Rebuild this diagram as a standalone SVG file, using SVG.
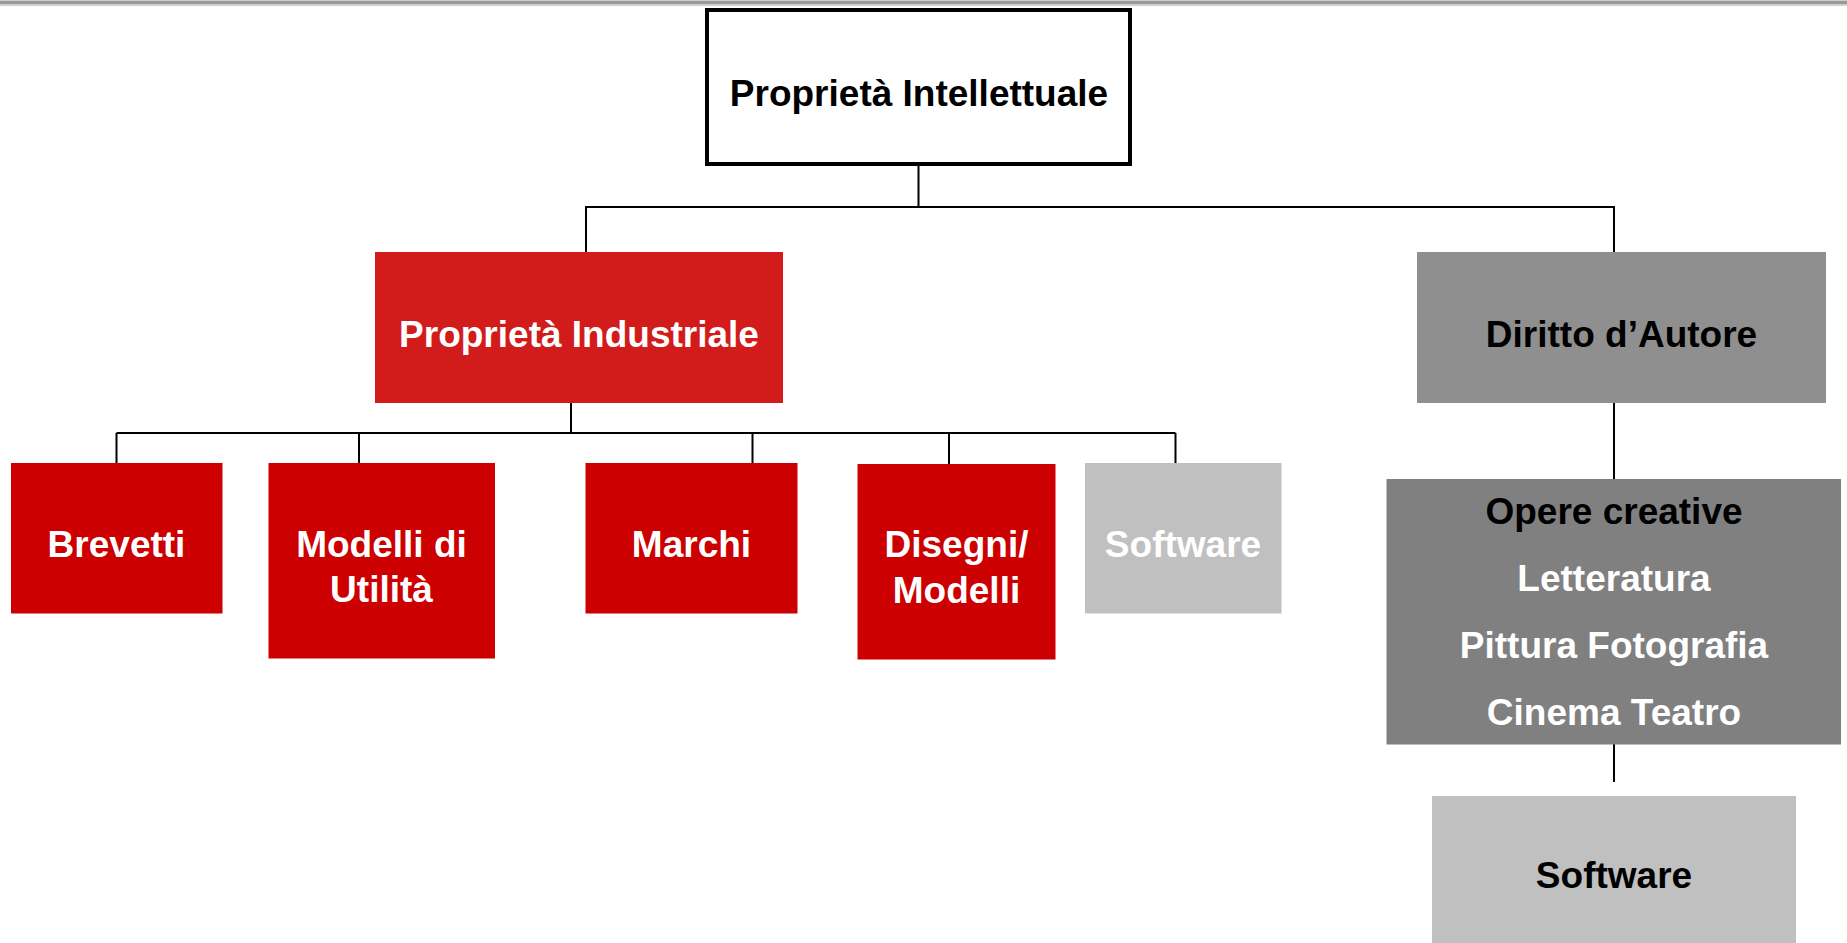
<svg xmlns="http://www.w3.org/2000/svg" width="1847" height="943" viewBox="0 0 1847 943">
<style>
text{font-family:"Liberation Sans",Arial,sans-serif;font-weight:bold;font-size:37px;text-anchor:middle}
.w{fill:#ffffff}
.k{fill:#000000}
.con{stroke:#000;stroke-width:2;fill:none}
.red{fill:#CC0000}
</style>
<rect x="0" y="0" width="1847" height="6" fill="#d0d0d0"/>
<rect x="0" y="1" width="1847" height="3" fill="#999999"/>
<g id="connectors">
<path class="con" d="M918.5 160V207M586 207H1614M586 206V252M1614 206V252"/>
<path class="con" d="M571 403V433M116.5 433H1175.5M116.5 433V463M359 433V463M752.5 433V463M949 433V464M1175.5 433V463"/>
<path class="con" d="M1614 403V479M1614 744V782"/>
</g>
<g id="n-proprieta-intellettuale">
<rect x="707" y="10" width="423" height="154" fill="#fff" stroke="#000" stroke-width="4"/>
<text class="k" x="919" y="106">Proprietà Intellettuale</text>
</g>
<g id="n-proprieta-industriale">
<rect x="375" y="252" width="408" height="151" fill="#D21C1C"/>
<text class="w" x="579" y="347">Proprietà Industriale</text>
</g>
<g id="n-diritto-autore">
<rect x="1417" y="252" width="409" height="151" fill="#8F8F8F"/>
<text class="k" x="1621.5" y="347">Diritto d’Autore</text>
</g>
<g id="n-brevetti">
<rect class="red" x="11" y="463" width="211.5" height="150.5"/>
<text class="w" x="116.5" y="557">Brevetti</text>
</g>
<g id="n-modelli-utilita">
<rect class="red" x="268.5" y="463" width="226.5" height="195.5"/>
<text class="w" x="381.5" y="557">Modelli di</text>
<text class="w" x="381.5" y="602">Utilità</text>
</g>
<g id="n-marchi">
<rect class="red" x="585.5" y="463" width="212" height="150.5"/>
<text class="w" x="691.5" y="557">Marchi</text>
</g>
<g id="n-disegni-modelli">
<rect class="red" x="857.5" y="464" width="198" height="195.5"/>
<text class="w" x="956.5" y="557">Disegni/</text>
<text class="w" x="956.5" y="602.5">Modelli</text>
</g>
<g id="n-software-1">
<rect x="1085" y="463" width="196.5" height="150.5" fill="#C0C0C0"/>
<text class="w" x="1183" y="557">Software</text>
</g>
<g id="n-opere-creative">
<rect x="1386.5" y="479" width="454.5" height="265.5" fill="#808080"/>
<text class="k" x="1614" y="524">Opere creative</text>
<text class="w" x="1614" y="591">Letteratura</text>
<text class="w" x="1614" y="658">Pittura Fotografia</text>
<text class="w" x="1614" y="725">Cinema Teatro</text>
</g>
<g id="n-software-2">
<rect x="1432" y="796" width="364" height="160" fill="#C0C0C0"/>
<text class="k" x="1614" y="888">Software</text>
</g>
</svg>
